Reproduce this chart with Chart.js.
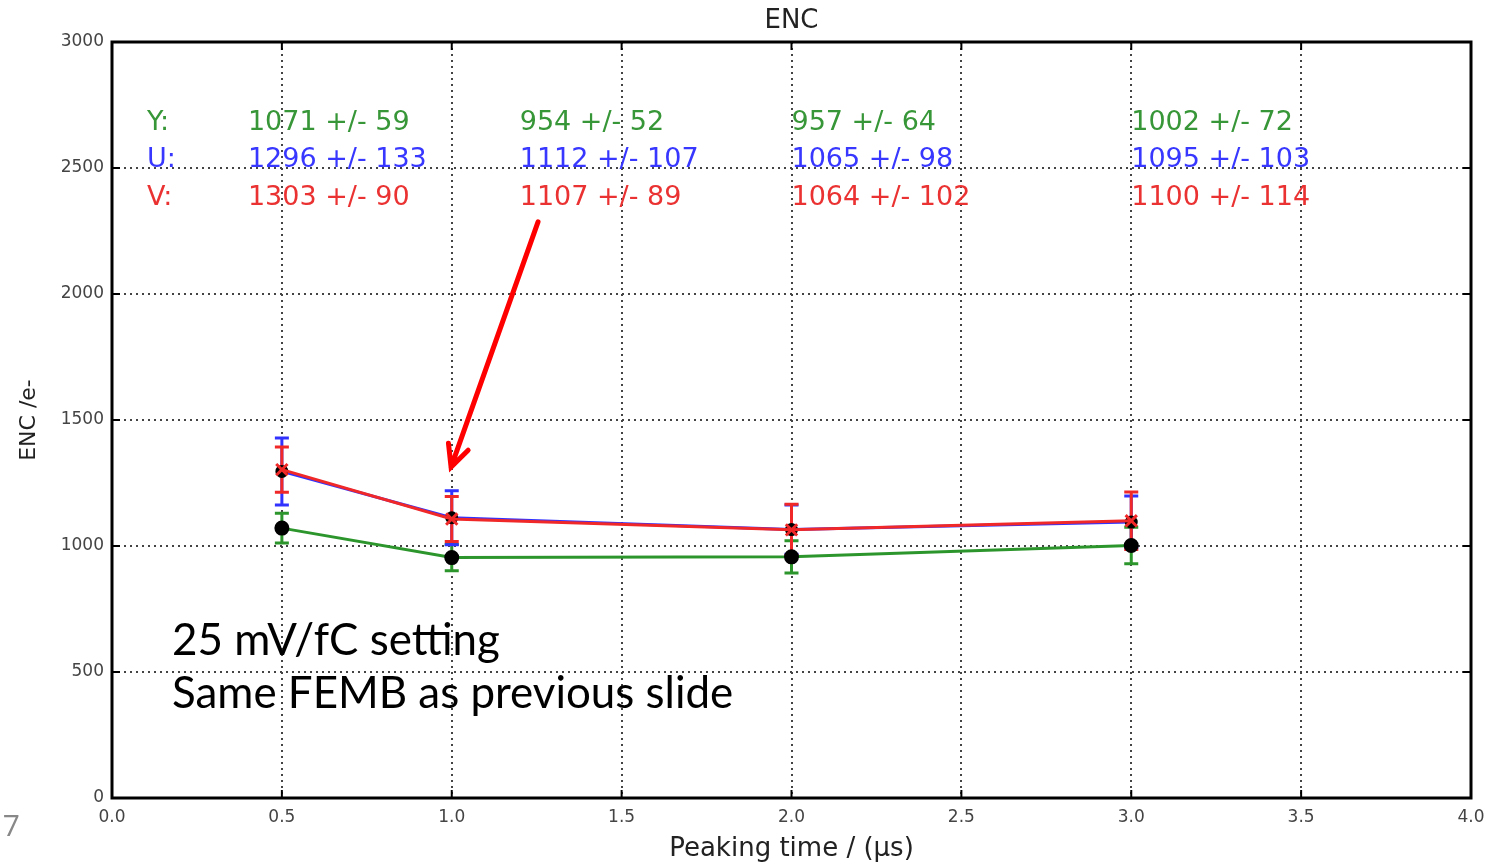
<!DOCTYPE html>
<html>
<head>
<meta charset="utf-8">
<script src="https://cdn.jsdelivr.net/npm/chart.js@4.4.1/dist/chart.umd.min.js"></script>
<style>
  body { margin: 0; background: #fff; }
  canvas { display: block; }
</style>
</head>
<body>
<canvas id="enc" width="1490" height="863"></canvas>
<script>
// ---------------- data ----------------
const peakingTimes = [0.5, 1.0, 2.0, 3.0]
const encY = [1071, 954, 957, 1002]
const errY = [59, 52, 64, 72]
const encU = [1296, 1112, 1065, 1095]
const errU = [133, 107, 98, 103]
const encV = [1303, 1107, 1064, 1100]
const errV = [90, 89, 102, 114]
const planeNames = ["Y", "U", "V"]
const xTicks = [0, 0.5, 1, 1.5, 2, 2.5, 3, 3.5, 4]
const yTicks = [0, 500, 1000, 1500, 2000, 2500, 3000]

const green = "rgb(44,150,44)"
const blue = "rgb(50,50,255)"
const red = "rgb(240,40,40)"

function pts(vals) {
  return peakingTimes.map((t, i) => ({x: t, y: vals[i]}))
}

const planes = [
  {name: planeNames[0], vals: encY, errs: errY, color: green, text: "rgb(55,150,55)"},
  {name: planeNames[1], vals: encU, errs: errU, color: blue, text: "rgb(55,55,255)"},
  {name: planeNames[2], vals: encV, errs: errV, color: red, text: "rgb(235,50,50)"}
]

// error bars, frame, in-pointing ticks, labels, arrow
const extras = {
  id: "extras",
  beforeDatasetsDraw(chart) {
    const ctx = chart.ctx
    const xs = chart.scales.x, ys = chart.scales.y
    ctx.save()
    ctx.lineWidth = 3
    planes.forEach(p => {
      ctx.strokeStyle = p.color
      peakingTimes.forEach((t, i) => {
        const px = xs.getPixelForValue(t)
        const top = ys.getPixelForValue(p.vals[i] + p.errs[i])
        const bot = ys.getPixelForValue(p.vals[i] - p.errs[i])
        ctx.beginPath()
        ctx.moveTo(px, top); ctx.lineTo(px, bot)
        ctx.moveTo(px - 7, top); ctx.lineTo(px + 7, top)
        ctx.moveTo(px - 7, bot); ctx.lineTo(px + 7, bot)
        ctx.stroke()
      })
    })
    ctx.restore()
  },
  afterDraw(chart) {
    const ctx = chart.ctx
    const a = chart.chartArea
    const xs = chart.scales.x, ys = chart.scales.y
    ctx.save()

    // frame
    ctx.strokeStyle = "#000"
    ctx.lineWidth = 3
    ctx.strokeRect(a.left, a.top, a.right - a.left, a.bottom - a.top)

    // tick marks pointing inward
    ctx.lineWidth = 2
    ctx.beginPath()
    xTicks.forEach(v => {
      const px = xs.getPixelForValue(v)
      ctx.moveTo(px, a.bottom); ctx.lineTo(px, a.bottom - 8)
      ctx.moveTo(px, a.top); ctx.lineTo(px, a.top + 8)
    })
    yTicks.forEach(v => {
      const py = ys.getPixelForValue(v)
      ctx.moveTo(a.left, py); ctx.lineTo(a.left + 8, py)
      ctx.moveTo(a.right, py); ctx.lineTo(a.right - 8, py)
    })
    ctx.stroke()

    // title and axis titles
    ctx.fillStyle = "#222"
    ctx.textAlign = "center"
    ctx.textBaseline = "middle"
    ctx.font = "26px 'DejaVu Sans'"
    ctx.fillText("ENC", (a.left + a.right) / 2, 21)
    ctx.fillText("Peaking time / (\u03bcs)", (a.left + a.right) / 2, 849)
    ctx.save()
    ctx.translate(29, (a.top + a.bottom) / 2)
    ctx.rotate(-Math.PI / 2)
    ctx.font = "22px 'DejaVu Sans'"
    ctx.fillText("ENC /e-", 0, 0)
    ctx.restore()

    // value table
    const colX = [0.4, 1.2, 2.0, 3.0]
    const rowY = [2680, 2532, 2382]
    ctx.textAlign = "left"
    ctx.font = "27px 'DejaVu Sans'"
    planes.forEach((p, r) => {
      ctx.fillStyle = p.text
      const py = ys.getPixelForValue(rowY[r])
      ctx.fillText(p.name + ":", xs.getPixelForValue(0.103), py)
      p.vals.forEach((v, i) => {
        ctx.fillText(v + " +/- " + p.errs[i], xs.getPixelForValue(colX[i]), py)
      })
    })

    // red arrow
    const x0 = xs.getPixelForValue(1.254), y0 = ys.getPixelForValue(2286)
    const x1 = xs.getPixelForValue(0.998), y1 = ys.getPixelForValue(1313)
    const ang = Math.atan2(y1 - y0, x1 - x0)
    ctx.strokeStyle = "#ff0000"
    ctx.lineWidth = 5
    ctx.lineCap = "round"
    ctx.beginPath()
    ctx.moveTo(x0, y0); ctx.lineTo(x1, y1)
    ctx.moveTo(x1 - 24 * Math.cos(ang - 0.45), y1 - 24 * Math.sin(ang - 0.45))
    ctx.lineTo(x1, y1)
    ctx.lineTo(x1 - 24 * Math.cos(ang + 0.45), y1 - 24 * Math.sin(ang + 0.45))
    ctx.stroke()

    // note
    ctx.fillStyle = "#000"
    ctx.textBaseline = "alphabetic"
    ctx.font = "40px Lato"
    const w = ctx.measureText("Same FEMB as previous slide").width
    const fs = 40 * 561 / w
    ctx.font = fs.toFixed(1) + "px Lato"
    ctx.fillText("25 mV/fC setting", 172, 655)
    ctx.fillText("Same FEMB as previous slide", 172, 708)

    // slide number, cut at left edge
    ctx.fillStyle = "#888"
    ctx.textAlign = "right"
    ctx.font = "30px 'Open Sans'"
    ctx.fillText("17", 20, 836)
    ctx.restore()
  }
}

const ctx = document.getElementById("enc").getContext("2d")
const encChart = new Chart(ctx, {
  type: "line",
  data: {
    datasets: [
      {label: "V", data: pts(encV), borderColor: red, borderWidth: 3, order: 1,
       pointStyle: "crossRot", pointRadius: 8, pointBorderWidth: 3,
       pointBorderColor: red, pointBackgroundColor: red},
      {label: "U", data: pts(encU), borderColor: blue, borderWidth: 3, order: 2,
       pointRadius: 5, pointBorderColor: "#000", pointBackgroundColor: "#000"},
      {label: "Y", data: pts(encY), borderColor: green, borderWidth: 3, order: 3,
       pointRadius: 6, pointBorderColor: "#000", pointBackgroundColor: "#000"}
    ]
  },
  options: {
    responsive: false,
    animation: false,
    layout: {padding: {top: 42, right: 19, left: 0, bottom: 0}},
    plugins: {legend: {display: false}, tooltip: {enabled: false}},
    scales: {
      x: {
        type: "linear", min: 0, max: 4,
        afterBuildTicks: s => { s.ticks = xTicks.map(v => ({value: v})) },
        afterFit: s => { s.height = 65; s.paddingLeft = 0; s.paddingRight = 0 },
        ticks: {color: "#444", font: {family: "DejaVu Sans", size: 17}, padding: 9,
                maxRotation: 0, callback: v => v.toFixed(1)},
        grid: {color: "#444", lineWidth: 2, drawTicks: false},
        border: {display: false, dash: [2, 4]}
      },
      y: {
        min: 0, max: 3000,
        afterBuildTicks: s => { s.ticks = yTicks.map(v => ({value: v})) },
        afterFit: s => { s.width = 112; s.paddingTop = 0; s.paddingBottom = 0 },
        ticks: {color: "#444", font: {family: "DejaVu Sans", size: 17}, padding: 8,
                callback: v => String(v)},
        grid: {color: "#444", lineWidth: 2, drawTicks: false},
        border: {display: false, dash: [2, 4]}
      }
    }
  },
  plugins: [extras]
})
</script>
</body>
</html>
